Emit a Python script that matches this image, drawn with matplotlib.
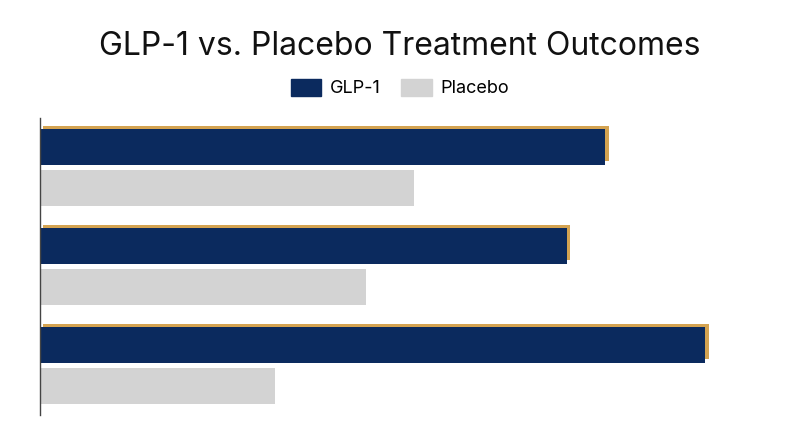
import matplotlib.pyplot as plt
import matplotlib.patheffects as pe
import numpy as np

plt.rcParams['font.family'] = ['Inter', 'DejaVu Sans']

categories = ['Outcome 1', 'Outcome 2', 'Outcome 3']
glp1 = [78.5, 73.2, 92.4]
placebo = [51.9, 45.3, 32.6]

NAVY = '#0b2a5e'
GOLD = '#d4a351'
GRAY = '#d3d3d3'

fig = plt.figure(figsize=(8, 4.47), dpi=100)
ax = fig.add_axes([0.05, 0.0716, 0.90, 0.6644])

y = np.arange(len(categories))
h = 0.354
off = 0.207

bars = ax.barh(y - off, glp1, height=h, color=NAVY, label='GLP-1')
for b in bars:
    b.set_path_effects([
        pe.SimplePatchShadow(offset=(2.4, 2.2), shadow_rgbFace=GOLD, alpha=1.0),
        pe.Normal(),
    ])
ax.barh(y + off, placebo, height=h, color=GRAY, label='Placebo')

ax.set_xlim(0, 100)
ax.set_ylim(2.5, -0.5)
ax.set_xticks([])
ax.set_yticks([])
for s in ['top', 'right', 'bottom']:
    ax.spines[s].set_visible(False)
ax.spines['left'].set_color('#444444')
ax.spines['left'].set_linewidth(1.0)

fig.text(0.5, 0.895, 'GLP-1 vs. Placebo Treatment Outcomes',
         ha='center', va='center', fontsize=23, color='#111111')

handles = [plt.Rectangle((0, 0), 1, 1, color=NAVY),
           plt.Rectangle((0, 0), 1, 1, color=GRAY)]
fig.legend(handles, ['GLP-1', 'Placebo'], loc='center',
           bbox_to_anchor=(0.5, 0.803), ncol=2, frameon=False,
           fontsize=13, handlelength=1.7, handleheight=1.05,
           handletextpad=0.5, columnspacing=1.1)

fig.savefig('out.png', dpi=100)
